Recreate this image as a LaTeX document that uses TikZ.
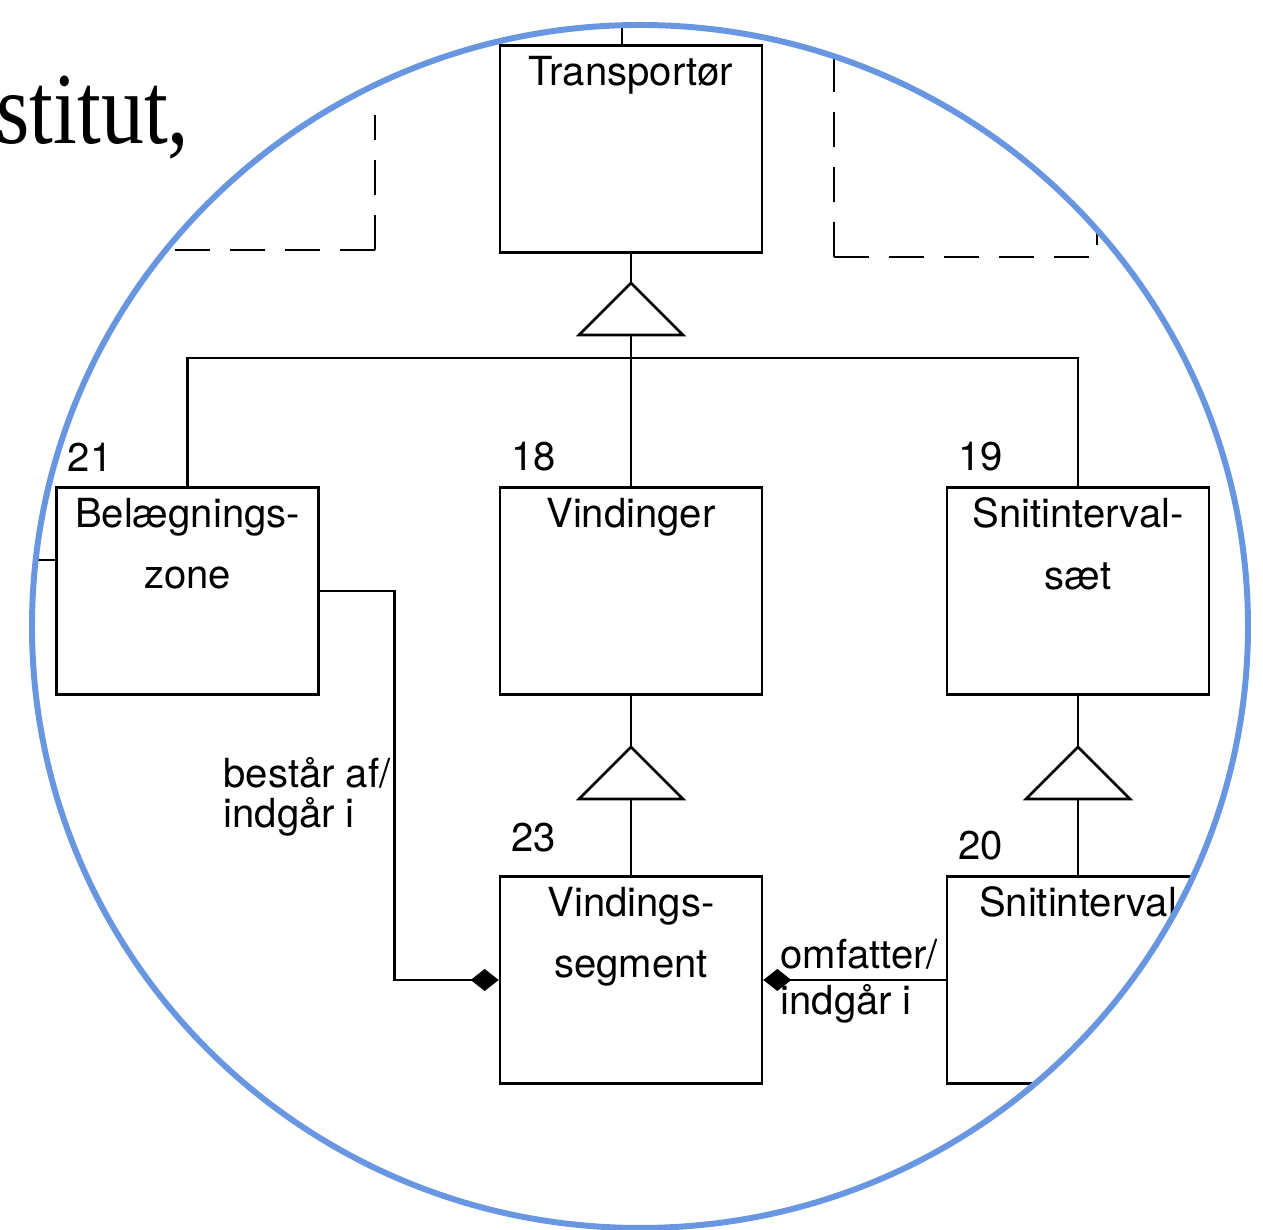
\documentclass[tikz,border=0pt]{standalone}
\usepackage{graphicx}
\usepackage{fontspec}
\setmainfont{TeX Gyre Heros}
\newfontfamily\scanserif{Liberation Serif}
\usetikzlibrary{arrows.meta}
\definecolor{loupe}{RGB}{105,150,225}
\tikzset{
  entity/.style={draw, line width=0.75pt, minimum width=2.62cm, minimum height=2.07cm, inner sep=0pt},
  title/.style={anchor=north, yshift=-0.11cm, inner sep=0pt, align=center, font=\fontsize{11.4}{17.5}\selectfont},
  num/.style={anchor=south west, xshift=0.12cm, yshift=0.14cm, inner sep=0pt, font=\fontsize{11.4}{13}\selectfont},
  link/.style={line width=0.75pt},
  agg/.style={line width=0.75pt, -{Diamond[length=0.28cm, width=0.22cm]}},
  rolle/.style={anchor=west, inner sep=0pt, align=left},
  ghost/.style={line width=0.8pt, dash pattern=on 0.35cm off 0.2cm},
}
\begin{document}
\begin{tikzpicture}
\useasboundingbox (0,0) rectangle (12.63,12.30);
% text of the page outside the loupe
\node[anchor=base east, inner sep=0pt, font=\scanserif\fontsize{29}{30}\selectfont] (inst) at (1.90,10.86) {\scalebox{0.84}[1]{stitut,}};
\begin{scope}
\clip (6.40,6.035) ellipse [x radius=6.08cm, y radius=6.015cm];
% entities
\node[entity, label={[title]north:Transportør}] (trans) at (6.31,10.81) {};
\node[entity, label={[title]north:Belægnings-\\zone}, label={[num]north west:21}] (belzone) at (1.875,6.39) {};
\node[entity, label={[title]north:Vindinger}, label={[num]north west:18}] (vind) at (6.31,6.39) {};
\node[entity, label={[title]north:Snitinterval-\\sæt}, label={[num]north west:19}] (snitsaet) at (10.78,6.39) {};
\node[entity, label={[title]north:Vindings-\\segment}, label={[num, yshift=0.08cm]north west:23}] (vseg) at (6.31,2.50) {};
\node[entity, label={[title]north:Snitinterval}, label={[num]north west:20}] (snit) at (10.78,2.50) {};
% dashed entities at the top
\draw[ghost] (3.75,9.80) -- (3.75,11.15);
\draw[ghost] (3.75,9.80) -- (0.5,9.80);
\draw[ghost] (8.34,9.73) -- (8.34,12.5);
\draw[ghost] (8.34,9.73) -| (10.97,12.5);
% stubs leaving the loupe
\coordinate (offt) at (6.22,12.4);
\coordinate (offl) at (0.2,6.70);
\draw[link] (offt |- trans.north) -- (offt);
\draw[link] (belzone.west |- offl) -- (offl);
% generalisation
\coordinate (g1) at (6.31,9.47);
\coordinate (g1b) at (6.31,8.95);
\coordinate (bus) at (6.31,8.72);
\draw[link] (g1) -- ++(0.52,-0.52) -- ++(-1.04,0) -- cycle;
\draw[link] (trans.south) -- (g1);
\draw[link] (g1b) -- (vind.north);
\draw[link] (belzone.north) |- (bus) -| (snitsaet.north);
\coordinate (g2) at (6.31,4.83);
\coordinate (g2b) at (6.31,4.31);
\draw[link] (g2) -- ++(0.52,-0.52) -- ++(-1.04,0) -- cycle;
\draw[link] (vind.south) -- (g2);
\draw[link] (g2b) -- (vseg.north);
\coordinate (g3) at (10.78,4.83);
\coordinate (g3b) at (10.78,4.31);
\draw[link] (g3) -- ++(0.52,-0.52) -- ++(-1.04,0) -- cycle;
\draw[link] (snitsaet.south) -- (g3);
\draw[link] (g3b) -- (snit.north);
% aggregation
\draw[agg] (belzone.east) -- ++(0.75,0) |- (vseg.west);
\draw[agg] (snit.west) -- (vseg.east);
\node[rolle, font=\fontsize{11.4}{11.4}\selectfont] (rbel) at (2.23,4.33) {består af/\\indgår i};
\node[rolle, font=\fontsize{11.4}{13.1}\selectfont] (romf) at (7.80,2.485) {omfatter/\\indgår i};
\end{scope}
\draw[loupe, line width=1.7pt] (6.40,6.035) ellipse [x radius=6.08cm, y radius=6.015cm];
\end{tikzpicture}
\end{document}
